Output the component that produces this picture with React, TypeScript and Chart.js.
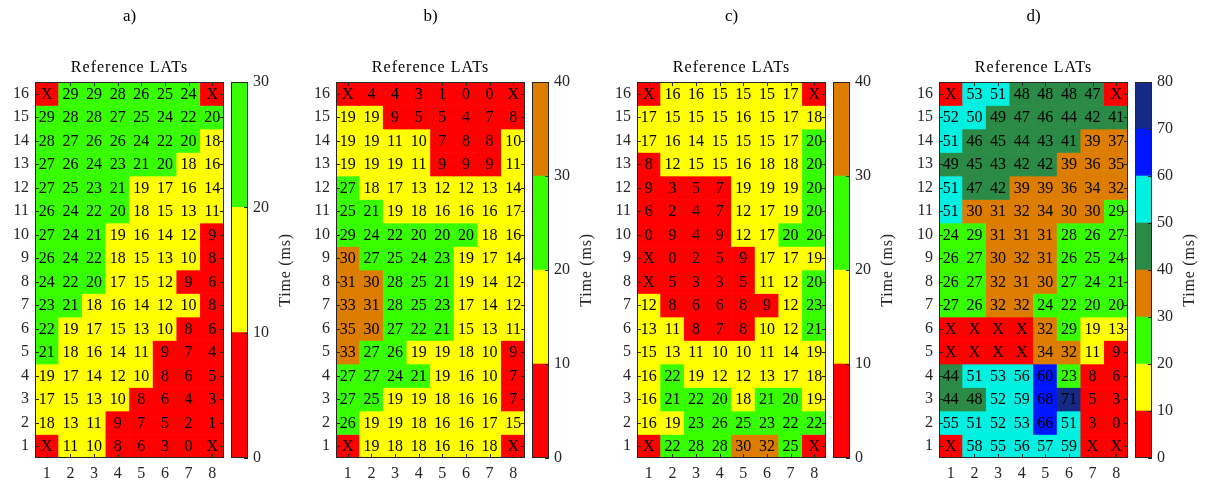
import React, { useEffect, useRef } from "react";
import { Chart, registerables } from "chart.js";

Chart.register(...registerables);

// Grid labels
const COLUMN_LABELS = ["1", "2", "3", "4", "5", "6", "7", "8"];
const ROW_NUMBERS = [16, 15, 14, 13, 12, 11, 10, 9, 8, 7, 6, 5, 4, 3, 2, 1];
const ROW_TICKS = [1, 2, 3, 4, 5, 6, 7, 8, 9, 10, 11, 12, 13, 14, 15, 16];

type Cell = number | null;
const X: Cell = null; // electrode without a recorded LAT

// Activation times (ms), rows listed from 16 (top) down to 1 (bottom)
const LAT_A: Cell[][] = [
  [X, 29, 29, 28, 26, 25, 24, X],
  [29, 28, 28, 27, 25, 24, 22, 20],
  [28, 27, 26, 26, 24, 22, 20, 18],
  [27, 26, 24, 23, 21, 20, 18, 16],
  [27, 25, 23, 21, 19, 17, 16, 14],
  [26, 24, 22, 20, 18, 15, 13, 11],
  [27, 24, 21, 19, 16, 14, 12, 9],
  [26, 24, 22, 18, 15, 13, 10, 8],
  [24, 22, 20, 17, 15, 12, 9, 6],
  [23, 21, 18, 16, 14, 12, 10, 8],
  [22, 19, 17, 15, 13, 10, 8, 6],
  [21, 18, 16, 14, 11, 9, 7, 4],
  [19, 17, 14, 12, 10, 8, 6, 5],
  [17, 15, 13, 10, 8, 6, 4, 3],
  [18, 13, 11, 9, 7, 5, 2, 1],
  [X, 11, 10, 8, 6, 3, 0, X],
];

const LAT_B: Cell[][] = [
  [X, 4, 4, 3, 1, 0, 0, X],
  [19, 19, 9, 5, 5, 4, 7, 8],
  [19, 19, 11, 10, 7, 8, 8, 10],
  [19, 19, 19, 11, 9, 9, 9, 11],
  [27, 18, 17, 13, 12, 12, 13, 14],
  [25, 21, 19, 18, 16, 16, 16, 17],
  [29, 24, 22, 20, 20, 20, 18, 16],
  [30, 27, 25, 24, 23, 19, 17, 14],
  [31, 30, 28, 25, 21, 19, 14, 12],
  [33, 31, 28, 25, 23, 17, 14, 12],
  [35, 30, 27, 22, 21, 15, 13, 11],
  [33, 27, 26, 19, 19, 18, 10, 9],
  [27, 27, 24, 21, 19, 16, 10, 7],
  [27, 25, 19, 19, 18, 16, 16, 7],
  [26, 19, 19, 18, 16, 16, 17, 15],
  [X, 19, 18, 18, 16, 16, 18, X],
];

const LAT_C: Cell[][] = [
  [X, 16, 16, 15, 15, 15, 17, X],
  [17, 15, 15, 15, 16, 15, 17, 18],
  [17, 16, 14, 15, 15, 15, 17, 20],
  [8, 12, 15, 15, 16, 18, 18, 20],
  [9, 3, 5, 7, 19, 19, 19, 20],
  [6, 2, 4, 7, 12, 17, 19, 20],
  [0, 9, 4, 9, 12, 17, 20, 20],
  [X, 0, 2, 5, 9, 17, 17, 19],
  [X, 5, 3, 3, 5, 11, 12, 20],
  [12, 8, 6, 6, 8, 9, 12, 23],
  [13, 11, 8, 7, 8, 10, 12, 21],
  [15, 13, 11, 10, 10, 11, 14, 19],
  [16, 22, 19, 12, 12, 13, 17, 18],
  [16, 21, 22, 20, 18, 21, 20, 19],
  [16, 19, 23, 26, 25, 23, 22, 22],
  [X, 22, 28, 28, 30, 32, 25, X],
];

const LAT_D: Cell[][] = [
  [X, 53, 51, 48, 48, 48, 47, X],
  [52, 50, 49, 47, 46, 44, 42, 41],
  [51, 46, 45, 44, 43, 41, 39, 37],
  [49, 45, 43, 42, 42, 39, 36, 35],
  [51, 47, 42, 39, 39, 36, 34, 32],
  [51, 30, 31, 32, 34, 30, 30, 29],
  [24, 29, 31, 31, 31, 28, 26, 27],
  [26, 27, 30, 32, 31, 26, 25, 24],
  [26, 27, 32, 31, 30, 27, 24, 21],
  [27, 26, 32, 32, 24, 22, 20, 20],
  [X, X, X, X, 32, 29, 19, 13],
  [X, X, X, X, 34, 32, 11, 9],
  [44, 51, 53, 56, 60, 23, 8, 6],
  [44, 48, 52, 59, 68, 71, 5, 3],
  [55, 51, 52, 53, 66, 51, 3, 0],
  [X, 58, 55, 56, 57, 59, X, X],
];

// Discrete colormaps, one colour per 10 ms band
const RED = "#ff0000";
const YELLOW = "#ffff00";
const GREEN = "#38ff00";
const ORANGE = "#dd7d00";
const DARK_GREEN = "#2b8a45";
const CYAN = "#00f0e2";
const BLUE = "#0016ff";
const NAVY = "#152a85";

const PALETTE_A = [RED, YELLOW, GREEN];
const PALETTE_BC = [RED, YELLOW, GREEN, ORANGE];
const PALETTE_D = [RED, YELLOW, GREEN, ORANGE, DARK_GREEN, CYAN, BLUE, NAVY];
const BAND_MS = 10;

const PANEL_LABELS = ["a)", "b)", "c)", "d)"];
const PANEL_TITLE = "Reference LATs";
const COLORBAR_TITLE = "Time (ms)";

// Layout (page pixels)
const PAGE_W = 1205;
const PAGE_H = 486;
const PLOT_TOP = 82;
const PLOT_W = 189;
const PLOT_H = 376;
const BOTTOM_SPACE = PAGE_H - PLOT_TOP - PLOT_H;
const Y_AXIS_W = 35;
const PLOT_LEFTS = [35, 336, 637, 939];
const BAR_GAP = 196;
const BAR_W = 17;
const BAR_AXIS_W = 60;

const FONT_FAMILY = "'Liberation Serif', 'DejaVu Serif', serif";
const AXIS_COLOR = "#262626";
const TICK_FONT = { family: FONT_FAMILY, size: 16 };

function cellColor(v: Cell, palette: string[]): string {
  if (v === null) return palette[0];
  const band = Math.min(palette.length - 1, Math.max(0, Math.floor(v / BAND_MS)));
  return palette[band];
}

// Box around the chart area with short inward tick marks
const framePlugin = {
  id: "frame",
  afterDraw(chart: any, _args: any, opts: any) {
    const { ctx, chartArea: a, scales } = chart;
    const len = 4;
    ctx.save();
    ctx.strokeStyle = AXIS_COLOR;
    ctx.lineWidth = 1;
    ctx.beginPath();
    if (opts.xTicks) {
      const xs = scales.x;
      xs.ticks.forEach((_t: any, i: number) => {
        const px = Math.round(xs.getPixelForTick(i)) + 0.5;
        ctx.moveTo(px, a.bottom);
        ctx.lineTo(px, a.bottom - len);
        ctx.moveTo(px, a.top);
        ctx.lineTo(px, a.top + len);
      });
    }
    const ys = scales.y;
    ys.ticks.forEach((t: any) => {
      const py = Math.round(ys.getPixelForValue(t.value)) + 0.5;
      if (opts.yLeft) {
        ctx.moveTo(a.left, py);
        ctx.lineTo(a.left + len, py);
      }
      if (opts.yRight) {
        ctx.moveTo(a.right, py);
        ctx.lineTo(a.right - len, py);
      }
    });
    ctx.stroke();
    ctx.strokeRect(a.left + 0.5, a.top + 0.5, a.right - a.left - 1, a.bottom - a.top - 1);
    ctx.restore();
  },
};

// Panel letter and heading above each grid
const headingPlugin = {
  id: "heading",
  afterDraw(chart: any, _args: any, opts: any) {
    const { ctx, chartArea: a } = chart;
    const cx = (a.left + a.right) / 2;
    ctx.save();
    ctx.fillStyle = "#000";
    ctx.textAlign = "center";
    ctx.textBaseline = "middle";
    ctx.font = `17px ${FONT_FAMILY}`;
    ctx.fillText(opts.label, cx, 17);
    ctx.font = `16px ${FONT_FAMILY}`;
    (ctx as any).letterSpacing = "1px";
    ctx.fillText(opts.title, cx, 68);
    ctx.restore();
  },
};

// Value (or X) written in the middle of every cell
const cellTextPlugin = {
  id: "cellText",
  afterDatasetsDraw(chart: any, _args: any, opts: any) {
    const { ctx } = chart;
    const values: Cell[][] = opts.values;
    ctx.save();
    ctx.fillStyle = "#000";
    ctx.textAlign = "center";
    ctx.textBaseline = "middle";
    ctx.font = `16px ${FONT_FAMILY}`;
    values.forEach((row, i) => {
      const meta = chart.getDatasetMeta(i);
      row.forEach((v, j) => {
        const el = meta.data[j];
        if (!el) return;
        const { x, y, base } = el.getProps(["x", "y", "base"], true);
        ctx.fillText(v === null ? "X" : String(v), x, (y + base) / 2 + 1);
      });
    });
    ctx.restore();
  },
};

// Rotated colorbar caption reading bottom to top
const barTitlePlugin = {
  id: "barTitle",
  afterDraw(chart: any, _args: any, opts: any) {
    const { ctx, chartArea: a } = chart;
    ctx.save();
    ctx.translate(a.right + 38, (a.top + a.bottom) / 2);
    ctx.rotate(-Math.PI / 2);
    ctx.fillStyle = AXIS_COLOR;
    ctx.textAlign = "center";
    ctx.textBaseline = "middle";
    ctx.font = `16px ${FONT_FAMILY}`;
    (ctx as any).letterSpacing = "0.8px";
    ctx.fillText(opts.text, 0, 0);
    ctx.restore();
  },
};

function Heatmap({ plotLeft, values, palette, label }: { plotLeft: number; values: Cell[][]; palette: string[]; label: string }) {
  const ref = useRef<HTMLCanvasElement>(null);
  const width = Y_AXIS_W + PLOT_W + 1;
  useEffect(() => {
    if (!ref.current) return;
    const datasets = ROW_NUMBERS.map((row, i) => ({
      label: `Row ${row}`,
      data: values[i].map(() => [row - 0.5, row + 0.5]),
      backgroundColor: values[i].map((v) => cellColor(v, palette)),
      borderWidth: 0,
      grouped: false,
      barPercentage: 1,
      categoryPercentage: 1,
    }));
    const chart = new Chart(ref.current, {
      type: "bar",
      data: { labels: COLUMN_LABELS, datasets: datasets as any },
      options: {
        animation: false,
        responsive: false,
        maintainAspectRatio: false,
        events: [],
        layout: { padding: { top: PLOT_TOP, right: 1, left: 0, bottom: 0 } },
        plugins: {
          legend: { display: false },
          tooltip: { enabled: false },
          frame: { xTicks: true, yLeft: true, yRight: true },
          heading: { label, title: PANEL_TITLE },
          cellText: { values },
        } as any,
        scales: {
          x: {
            type: "category",
            offset: true,
            grid: { display: false, drawTicks: false },
            border: { display: false },
            ticks: { font: TICK_FONT, color: AXIS_COLOR, padding: 6, maxRotation: 0 },
            afterFit: (s: any) => {
              s.height = BOTTOM_SPACE;
            },
          },
          y: {
            type: "linear",
            min: 0.5,
            max: 16.5,
            grid: { display: false, drawTicks: false },
            border: { display: false },
            ticks: { font: TICK_FONT, color: AXIS_COLOR, padding: 6 },
            afterBuildTicks: (s: any) => {
              s.ticks = ROW_TICKS.map((v) => ({ value: v }));
            },
            afterFit: (s: any) => {
              s.width = Y_AXIS_W;
            },
          },
        },
      },
      plugins: [framePlugin, headingPlugin, cellTextPlugin],
    });
    return () => chart.destroy();
  }, []);
  return (
    <canvas
      ref={ref}
      width={width}
      height={PAGE_H}
      style={{ position: "absolute", left: plotLeft - Y_AXIS_W, top: 0, width, height: PAGE_H }}
    />
  );
}

function Colorbar({ plotLeft, palette }: { plotLeft: number; palette: string[] }) {
  const ref = useRef<HTMLCanvasElement>(null);
  const width = 1 + BAR_W + BAR_AXIS_W;
  useEffect(() => {
    if (!ref.current) return;
    const datasets = palette.map((c, k) => ({
      label: `${k * BAND_MS}-${(k + 1) * BAND_MS} ms`,
      data: [[k * BAND_MS, (k + 1) * BAND_MS]],
      backgroundColor: c,
      borderWidth: 0,
      grouped: false,
      barPercentage: 1,
      categoryPercentage: 1,
    }));
    const chart = new Chart(ref.current, {
      type: "bar",
      data: { labels: [""], datasets: datasets as any },
      options: {
        animation: false,
        responsive: false,
        maintainAspectRatio: false,
        events: [],
        layout: { padding: { top: PLOT_TOP, right: 0, left: 1, bottom: BOTTOM_SPACE } },
        plugins: {
          legend: { display: false },
          tooltip: { enabled: false },
          frame: { xTicks: false, yLeft: false, yRight: true },
          barTitle: { text: COLORBAR_TITLE },
        } as any,
        scales: {
          x: { type: "category", display: false, offset: true },
          y: {
            type: "linear",
            position: "right",
            min: 0,
            max: palette.length * BAND_MS,
            grid: { display: false, drawTicks: false },
            border: { display: false },
            ticks: { stepSize: BAND_MS, font: TICK_FONT, color: AXIS_COLOR, padding: 5 },
            afterFit: (s: any) => {
              s.width = BAR_AXIS_W;
            },
          },
        },
      },
      plugins: [framePlugin, barTitlePlugin],
    });
    return () => chart.destroy();
  }, []);
  return (
    <canvas
      ref={ref}
      width={width}
      height={PAGE_H}
      style={{ position: "absolute", left: plotLeft + BAR_GAP - 1, top: 0, width, height: PAGE_H }}
    />
  );
}

const PANELS = [
  { values: LAT_A, palette: PALETTE_A },
  { values: LAT_B, palette: PALETTE_BC },
  { values: LAT_C, palette: PALETTE_BC },
  { values: LAT_D, palette: PALETTE_D },
];

export default function App() {
  return (
    <div style={{ position: "absolute", left: 0, top: 0, width: PAGE_W, height: PAGE_H, background: "#fff", overflow: "hidden" }}>
      {PANELS.map((p, i) => (
        <React.Fragment key={i}>
          <Heatmap plotLeft={PLOT_LEFTS[i]} values={p.values} palette={p.palette} label={PANEL_LABELS[i]} />
          <Colorbar plotLeft={PLOT_LEFTS[i]} palette={p.palette} />
        </React.Fragment>
      ))}
    </div>
  );
}
